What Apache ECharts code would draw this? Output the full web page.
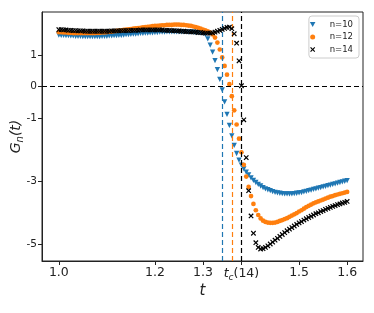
<!DOCTYPE html>
<html>
<head>
<meta charset="utf-8">
<script src="https://cdn.jsdelivr.net/npm/echarts@6/dist/echarts.min.js"></script>
<style>html,body{margin:0;padding:0;background:#fff;}#c{width:374px;height:313px;}</style>
</head>
<body>
<div id="c"></div>
<script>
// t grid (x values of the points)
const tValues = [
1.000,1.005,1.010,1.015,1.020,1.025,1.030,1.035,1.040,1.045,
1.050,1.055,1.060,1.065,1.070,1.075,1.080,1.085,1.090,1.095,
1.100,1.105,1.110,1.115,1.120,1.125,1.130,1.135,1.140,1.145,
1.150,1.155,1.160,1.165,1.170,1.175,1.180,1.185,1.190,1.195,
1.200,1.205,1.210,1.215,1.220,1.225,1.230,1.235,1.240,1.245,
1.250,1.255,1.260,1.265,1.270,1.275,1.280,1.285,1.290,1.295,
1.300,1.305,1.310,1.315,1.320,1.325,1.330,1.335,1.340,1.345,
1.350,1.355,1.360,1.365,1.370,1.375,1.380,1.385,1.390,1.395,
1.400,1.405,1.410,1.415,1.420,1.425,1.430,1.435,1.440,1.445,
1.450,1.455,1.460,1.465,1.470,1.475,1.480,1.485,1.490,1.495,
1.500,1.505,1.510,1.515,1.520,1.525,1.530,1.535,1.540,1.545,
1.550,1.555,1.560,1.565,1.570,1.575,1.580,1.585,1.590,1.595,
1.600];

const n10 = [
1.64,1.63,1.63,1.62,1.62,1.61,1.61,1.60,1.60,1.60,
1.59,1.59,1.59,1.59,1.59,1.59,1.59,1.59,1.60,1.60,
1.60,1.61,1.61,1.62,1.62,1.63,1.63,1.64,1.65,1.65,
1.66,1.67,1.67,1.68,1.69,1.69,1.70,1.70,1.71,1.71,
1.72,1.72,1.73,1.73,1.73,1.74,1.74,1.74,1.74,1.74,
1.74,1.74,1.74,1.74,1.73,1.73,1.73,1.72,1.72,1.71,
1.70,1.66,1.52,1.32,1.10,0.83,0.54,0.23,-0.10,-0.48,
-0.88,-1.23,-1.56,-1.86,-2.12,-2.33,-2.49,-2.61,-2.71,-2.80,
-2.89,-2.97,-3.04,-3.10,-3.15,-3.20,-3.24,-3.27,-3.30,-3.33,
-3.35,-3.37,-3.38,-3.39,-3.40,-3.40,-3.40,-3.40,-3.39,-3.38,
-3.37,-3.36,-3.34,-3.32,-3.30,-3.28,-3.26,-3.24,-3.22,-3.20,
-3.18,-3.16,-3.14,-3.12,-3.10,-3.08,-3.06,-3.04,-3.02,-3.00,
-2.98];

const n12 = [
1.73,1.73,1.72,1.72,1.71,1.71,1.70,1.70,1.70,1.70,
1.70,1.70,1.70,1.70,1.70,1.70,1.71,1.71,1.72,1.72,
1.73,1.74,1.75,1.76,1.77,1.78,1.79,1.80,1.81,1.82,
1.83,1.84,1.85,1.86,1.87,1.88,1.89,1.90,1.91,1.92,
1.93,1.93,1.94,1.95,1.95,1.96,1.96,1.96,1.97,1.97,
1.97,1.96,1.96,1.95,1.94,1.93,1.91,1.89,1.87,1.84,
1.81,1.79,1.76,1.72,1.66,1.56,1.40,1.18,0.93,0.66,
0.38,0.08,-0.30,-0.75,-1.20,-1.65,-2.08,-2.48,-2.85,-3.18,
-3.47,-3.72,-3.92,-4.07,-4.18,-4.25,-4.29,-4.31,-4.32,-4.32,
-4.31,-4.29,-4.26,-4.23,-4.20,-4.17,-4.13,-4.09,-4.05,-4.01,
-3.96,-3.92,-3.87,-3.82,-3.78,-3.74,-3.70,-3.67,-3.64,-3.61,
-3.58,-3.55,-3.52,-3.49,-3.47,-3.44,-3.42,-3.40,-3.38,-3.36,
-3.34];

const n14 = [
1.81,1.81,1.80,1.80,1.79,1.79,1.78,1.78,1.77,1.77,
1.77,1.76,1.76,1.76,1.76,1.76,1.76,1.76,1.76,1.76,
1.76,1.76,1.77,1.77,1.77,1.77,1.78,1.78,1.78,1.78,
1.79,1.79,1.79,1.79,1.80,1.80,1.80,1.80,1.80,1.80,
1.80,1.80,1.80,1.80,1.79,1.79,1.79,1.78,1.78,1.77,
1.77,1.76,1.76,1.75,1.75,1.74,1.74,1.73,1.72,1.72,
1.71,1.70,1.70,1.70,1.71,1.73,1.76,1.79,1.82,1.85,
1.88,1.89,1.84,1.68,1.38,0.82,0.03,-1.05,-2.25,-3.30,
-4.10,-4.65,-4.95,-5.10,-5.15,-5.14,-5.10,-5.05,-4.99,-4.93,
-4.87,-4.81,-4.75,-4.69,-4.63,-4.57,-4.52,-4.47,-4.42,-4.37,
-4.32,-4.28,-4.23,-4.19,-4.15,-4.11,-4.07,-4.03,-4.00,-3.96,
-3.93,-3.89,-3.86,-3.83,-3.80,-3.77,-3.74,-3.72,-3.69,-3.67,
-3.64];

const seriesNames = ['n=10', 'n=12', 'n=14'];
const criticalT = [1.340, 1.360, 1.380];   // t_c(10), t_c(12), t_c(14)
const xTickValues = [1.0, 1.2, 1.3, 1.38, 1.5, 1.6];
const xTickLabels = ['1.0', '1.2', '1.3', '{t|t}{s|c}{p|(14)}', '1.5', '1.6'];
const yTickValues = [1, 0, -1, -3, -5];
const yTickLabels = ['1', '0', '-1', '-3', '-5'];

const colors = ['#1f77b4', '#ff7f0e', '#000000'];
const triDown = 'path://M0,0L10,0L5,9Z';
const xMark = 'path://M0,1.6L1.6,0L5,3.4L8.4,0L10,1.6L6.6,5L10,8.4L8.4,10L5,6.6L1.6,10L0,8.4L3.4,5Z';
const symbols = [triDown, 'circle', xMark];
const seriesVals = [n10, n12, n14];

const chart = echarts.init(document.getElementById('c'), null, {renderer: 'canvas'});
const FONT = 'DejaVu Sans';
const AX = '#222';

const series = seriesVals.map((vals, k) => {
  const s = {
    name: seriesNames[k],
    type: 'scatter',
    symbol: symbols[k],
    symbolSize: k === 1 ? 4.7 : 5.3,
    itemStyle: {color: colors[k], opacity: 1},
    data: tValues.map((t, i) => [t, vals[i]]),
    z: 3 + k,
    markLine: {
      silent: true,
      symbol: ['none', 'none'],
      label: {show: false},
      lineStyle: {color: colors[k], type: [5, 3], width: 1.2},
      data: [{xAxis: criticalT[k]}]
    }
  };
  if (k === 2) {
    s.markLine.data.push({yAxis: 0, lineStyle: {color: '#000', type: [5, 3], width: 1.2}});
  }
  return s;
});

chart.setOption({
  animation: false,
  textStyle: {fontFamily: FONT},
  grid: {left: 42, right: 11, top: 12, bottom: 52, outerBoundsMode: 'none', containLabel: false,
         show: true, borderColor: AX, borderWidth: 1, backgroundColor: 'transparent'},
  legend: {
    orient: 'vertical',
    right: 15, top: 16,
    padding: [4, 6, 4, 1],
    itemGap: 3.5,
    itemWidth: 18, itemHeight: 5,
    borderColor: '#cccccc', borderWidth: 1, borderRadius: 3,
    backgroundColor: 'rgba(255,255,255,0.8)',
    textStyle: {fontSize: 8.5, color: AX, fontFamily: FONT, padding: [0, 0, 0, 3]},
    data: seriesNames.map((n, k) => ({name: n, icon: symbols[k]}))
  },
  xAxis: {
    type: 'value', min: 0.965, max: 1.633,
    splitLine: {show: false},
    axisLine: {show: true, onZero: false, lineStyle: {color: AX}},
    axisTick: {show: true, customValues: xTickValues, length: 4, lineStyle: {color: AX}},
    axisLabel: {
      customValues: xTickValues,
      formatter: v => { const i = xTickValues.findIndex(x => Math.abs(x - v) < 1e-6); return i >= 0 ? xTickLabels[i] : ''; },
      fontSize: 12.5, color: AX, margin: 5, fontFamily: FONT,
      rich: {
        t: {fontSize: 12.5, fontStyle: 'italic', color: AX, fontFamily: FONT},
        s: {fontSize: 9, fontStyle: 'italic', color: AX, fontFamily: FONT, padding: [7, 0, 0, 0]},
        p: {fontSize: 12.5, color: AX, fontFamily: FONT}
      }
    },
    name: 't', nameLocation: 'middle', nameGap: 23, nameMoveOverlap: false,
    nameTextStyle: {fontStyle: 'italic', fontSize: 15, color: AX, fontFamily: FONT}
  },
  yAxis: {
    type: 'value', min: -5.53, max: 2.37,
    splitLine: {show: false},
    axisLine: {show: true, onZero: false, lineStyle: {color: AX}},
    axisTick: {show: true, customValues: yTickValues, length: 4, lineStyle: {color: AX}},
    axisLabel: {
      customValues: yTickValues,
      formatter: v => { const i = yTickValues.findIndex(x => Math.abs(x - v) < 1e-6); return i >= 0 ? yTickLabels[i] : ''; },
      fontSize: 10.5, color: AX, margin: 5, fontFamily: FONT
    },
    name: '{g|G}{n|n}{p|(t)}', nameLocation: 'middle', nameGap: 17, nameRotate: 90, nameMoveOverlap: false,
    nameTextStyle: {
      color: AX, fontFamily: FONT,
      rich: {
        g: {fontSize: 14, fontStyle: 'italic', color: AX, fontFamily: FONT},
        n: {fontSize: 10, fontStyle: 'italic', color: AX, fontFamily: FONT, padding: [7, 0, 0, 0]},
        p: {fontSize: 14, fontStyle: 'italic', color: AX, fontFamily: FONT}
      }
    }
  },
  series: series
});
</script>
</body>
</html>
